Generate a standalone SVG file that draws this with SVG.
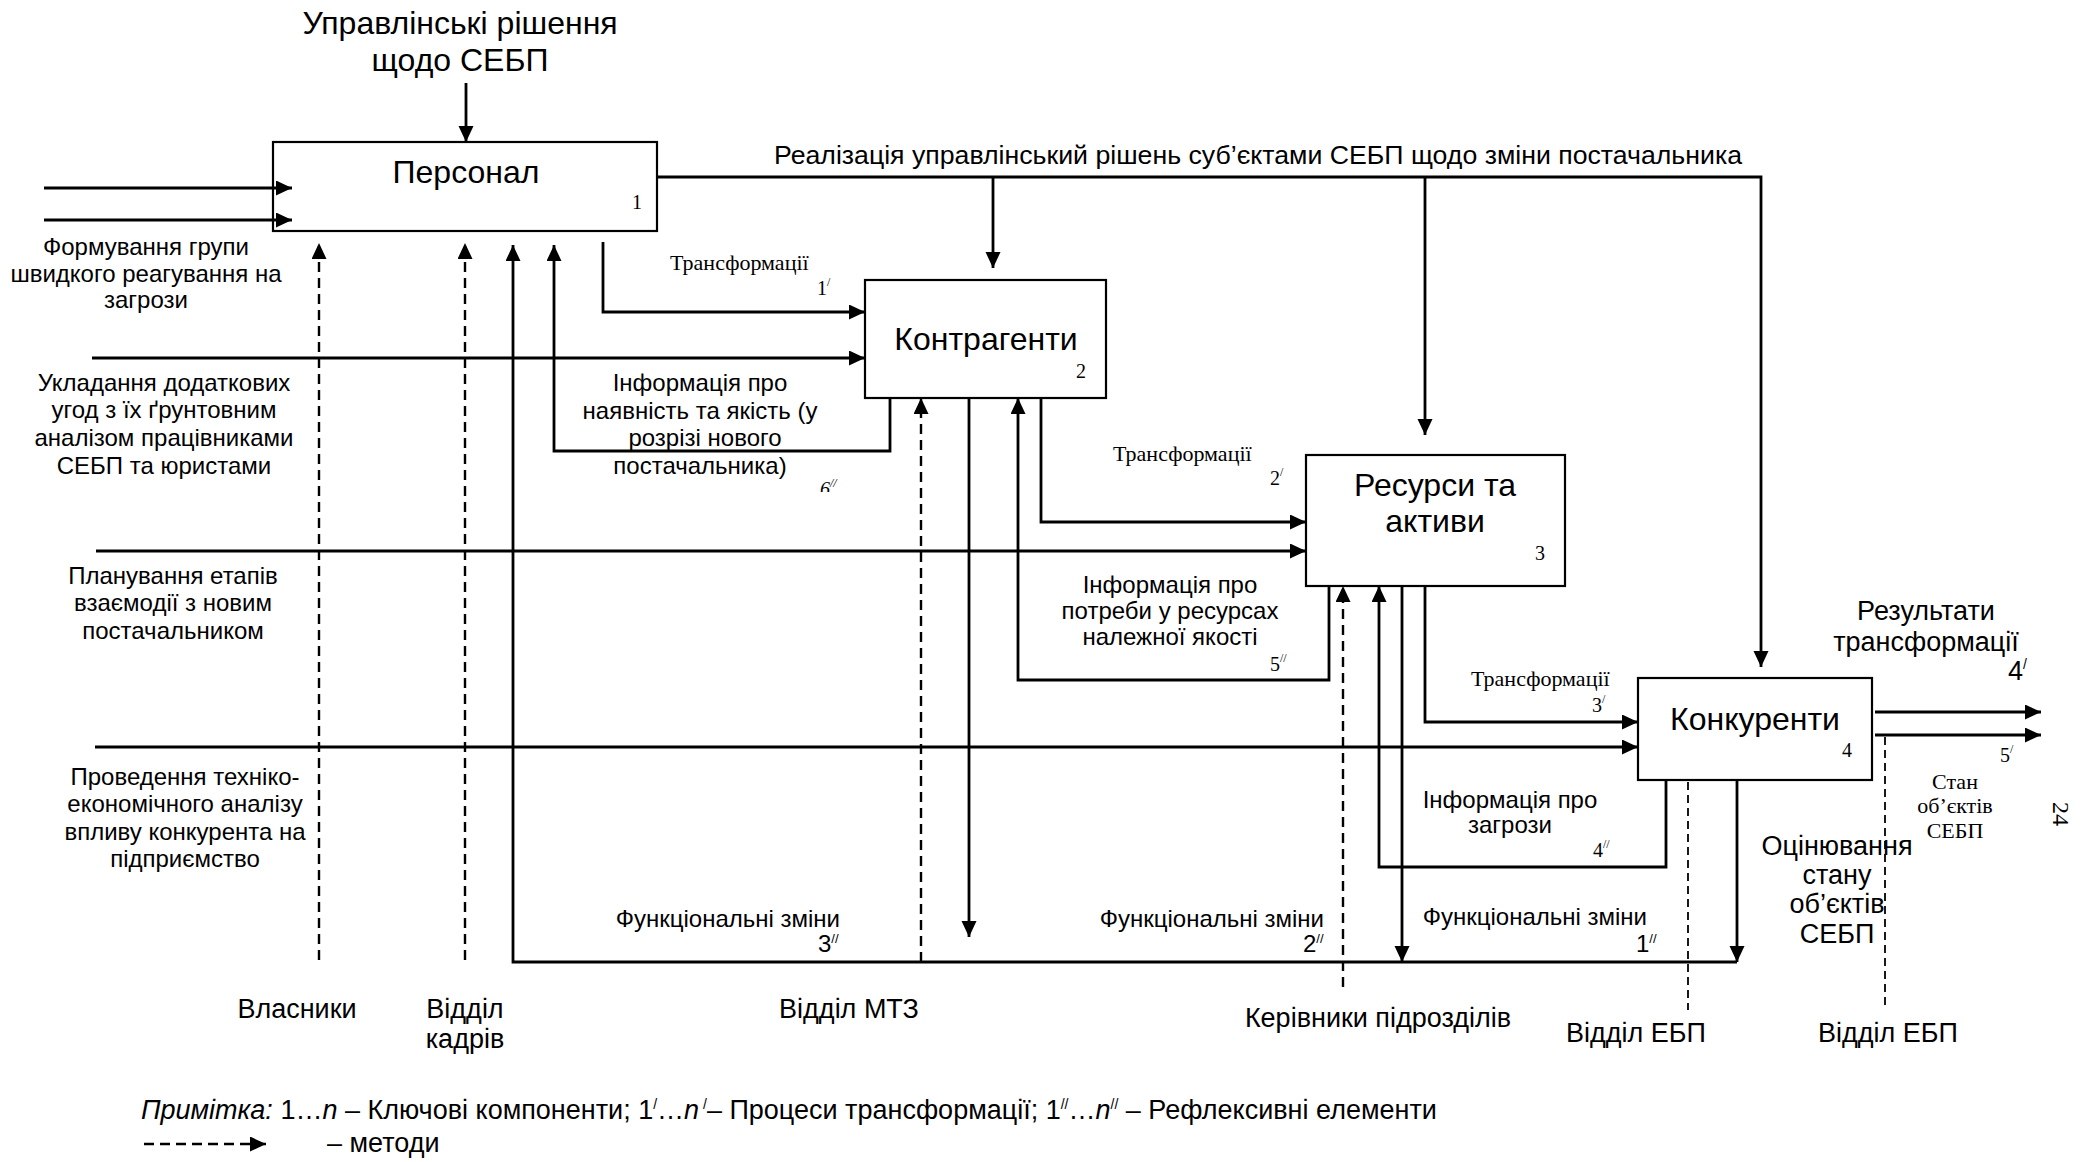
<svg xmlns="http://www.w3.org/2000/svg" width="2086" height="1162" viewBox="0 0 2086 1162">
<style>
.sans{font-family:"Liberation Sans",Arial,sans-serif;fill:#000}
.serif{font-family:"Liberation Serif","Times New Roman",serif;fill:#000}
.lbl{font-size:24px}
.big{font-size:32px}
.mid{font-size:27px}
.fz{font-size:24px}
.tr{font-size:22px}
.num{font-size:20px}
.note{font-size:27px}
.box{fill:#fff;stroke:#000;stroke-width:2.2}
.ln{fill:none;stroke:#000;stroke-width:2.8}
.dash{fill:none;stroke:#000;stroke-width:2.4;stroke-dasharray:10,6}
.dthin{fill:none;stroke:#000;stroke-width:1.8;stroke-dasharray:8,5}
.c{text-anchor:middle}
.e{text-anchor:end}
</style>
<defs>
<marker id="arr" markerUnits="userSpaceOnUse" markerWidth="18" markerHeight="16" refX="16" refY="7.5" orient="auto">
<path d="M0,0 L16,7.5 L0,15 z" fill="#000"/>
</marker>
<clipPath id="clip6"><rect x="800" y="470" width="60" height="22"/></clipPath>
</defs>

<g id="title">
<text class="sans big c" x="460" y="34">Управлінські рішення</text>
<text class="sans big c" x="460" y="71">щодо СЕБП</text>
</g>

<g id="n1">
<rect class="box" x="273" y="142" width="384" height="89"/>
<text class="sans big c" x="466" y="183">Персонал</text>
<text class="serif num" x="632" y="209">1</text>
</g>
<g id="n2">
<rect class="box" x="865" y="280" width="241" height="118"/>
<text class="sans big c" x="986" y="350">Контрагенти</text>
<text class="serif num" x="1076" y="378">2</text>
</g>
<g id="n3">
<rect class="box" x="1306" y="455" width="259" height="131"/>
<text class="sans big c" x="1435" y="496">Ресурси та</text>
<text class="sans big c" x="1435" y="532">активи</text>
<text class="serif num" x="1535" y="560">3</text>
</g>
<g id="n4">
<rect class="box" x="1638" y="678" width="234" height="102"/>
<text class="sans big c" x="1755" y="730">Конкуренти</text>
<text class="serif num" x="1842" y="757">4</text>
</g>

<g id="connectors">
<path class="ln" d="M466,83 V142" marker-end="url(#arr)"/>
<path class="ln" d="M44,188 H292" marker-end="url(#arr)"/>
<path class="ln" d="M44,220 H292" marker-end="url(#arr)"/>
<path class="ln" d="M657,177 H1761 V667" marker-end="url(#arr)"/>
<path class="ln" d="M993,177 V268" marker-end="url(#arr)"/>
<path class="ln" d="M1425,177 V435" marker-end="url(#arr)"/>
<path class="ln" d="M603,242 V312 H865" marker-end="url(#arr)"/>
<path class="ln" d="M92,358 H865" marker-end="url(#arr)"/>
<path class="ln" d="M890,398 V451 H554 V245" marker-end="url(#arr)"/>
<path class="ln" d="M96,551 H1306" marker-end="url(#arr)"/>
<path class="ln" d="M1041,398 V522 H1306" marker-end="url(#arr)"/>
<path class="ln" d="M1329,586 V680 H1018 V398" marker-end="url(#arr)"/>
<path class="ln" d="M95,747 H1638" marker-end="url(#arr)"/>
<path class="ln" d="M1425,586 V722 H1638" marker-end="url(#arr)"/>
<path class="ln" d="M1666,780 V867 H1379 V586" marker-end="url(#arr)"/>
<path class="ln" d="M1875,712 H2041" marker-end="url(#arr)"/>
<path class="ln" d="M1875,735 H2041" marker-end="url(#arr)"/>
<path class="ln" d="M1737,962 H513 V245" marker-end="url(#arr)"/>
<path class="ln" d="M969,398 V937" marker-end="url(#arr)"/>
<path class="ln" d="M1402,586 V962" marker-end="url(#arr)"/>
<path class="ln" d="M1737,780 V962" marker-end="url(#arr)"/>
<path class="dash" d="M319,960 V243" marker-end="url(#arr)"/>
<path class="dash" d="M465,960 V243" marker-end="url(#arr)"/>
<path class="dash" d="M921,962 V398" marker-end="url(#arr)"/>
<path class="dash" d="M1343,987 V586" marker-end="url(#arr)"/>
<path class="dthin" d="M1688,782 V1010"/>
<path class="dthin" d="M1885,737 V1008"/>
</g>

<g id="labels">
<text class="sans" font-size="26.7" x="774" y="164">Реалізація управлінський рішень суб’єктами СЕБП щодо зміни постачальника</text>

<text class="sans lbl c" x="146" y="255">Формування групи</text>
<text class="sans lbl c" x="146" y="282">швидкого реагування на</text>
<text class="sans lbl c" x="146" y="308">загрози</text>

<text class="sans lbl c" x="164" y="391">Укладання додаткових</text>
<text class="sans lbl c" x="164" y="418">угод з їх ґрунтовним</text>
<text class="sans lbl c" x="164" y="446">аналізом працівниками</text>
<text class="sans lbl c" x="164" y="474">СЕБП та юристами</text>

<text class="sans lbl c" x="173" y="584">Планування етапів</text>
<text class="sans lbl c" x="173" y="611">взаємодії з новим</text>
<text class="sans lbl c" x="173" y="639">постачальником</text>

<text class="sans lbl c" x="185" y="785">Проведення техніко-</text>
<text class="sans lbl c" x="185" y="812">економічного аналізу</text>
<text class="sans lbl c" x="185" y="840">впливу конкурента на</text>
<text class="sans lbl c" x="185" y="867">підприємство</text>

<text class="serif tr" x="670" y="270">Трансформації</text>
<text class="serif num" x="817" y="295">1<tspan font-size="12" dy="-9">/</tspan></text>

<text class="sans lbl c" x="700" y="391">Інформація про</text>
<text class="sans lbl c" x="700" y="419">наявність та якість (у</text>
<text class="sans lbl c" x="705" y="446">розрізі нового</text>
<text class="sans lbl c" x="700" y="474">постачальника)</text>
<text class="serif num" x="820" y="496" font-style="italic" clip-path="url(#clip6)">6<tspan font-size="12" dy="-9">//</tspan></text>

<text class="serif tr" x="1113" y="461">Трансформації</text>
<text class="serif num" x="1270" y="485">2<tspan font-size="12" dy="-9">/</tspan></text>

<text class="sans lbl c" x="1170" y="593">Інформація про</text>
<text class="sans lbl c" x="1170" y="619">потреби у ресурсах</text>
<text class="sans lbl c" x="1170" y="645">належної якості</text>
<text class="serif num" x="1270" y="671">5<tspan font-size="12" dy="-9">//</tspan></text>

<text class="serif tr" x="1471" y="686">Трансформації</text>
<text class="serif num" x="1592" y="712">3<tspan font-size="12" dy="-9">/</tspan></text>

<text class="sans lbl c" x="1510" y="808">Інформація про</text>
<text class="sans lbl c" x="1510" y="833">загрози</text>
<text class="serif num" x="1593" y="857">4<tspan font-size="12" dy="-9">//</tspan></text>

<text class="sans mid c" x="1926" y="620">Результати</text>
<text class="sans mid c" x="1926" y="651">трансформації</text>
<text class="sans mid" x="2008" y="680">4<tspan font-size="14" dy="-11">/</tspan></text>
<text class="serif num" x="2000" y="762">5<tspan font-size="12" dy="-9">/</tspan></text>

<text class="serif tr c" x="1955" y="789" font-size="20">Стан</text>
<text class="serif tr c" x="1955" y="813" font-size="20">об’єктів</text>
<text class="serif tr c" x="1955" y="838" font-size="20">СЕБП</text>

<text class="sans mid c" x="1837" y="855">Оцінювання</text>
<text class="sans mid c" x="1837" y="884">стану</text>
<text class="sans mid c" x="1837" y="913">об’єктів</text>
<text class="sans mid c" x="1837" y="943">СЕБП</text>

<text class="serif" font-size="24" transform="translate(2053,802) rotate(90)">24</text>

<text class="sans fz e" x="840" y="927">Функціональні зміни</text>
<text class="sans fz" x="818" y="952">3<tspan font-size="13" dy="-9">//</tspan></text>
<text class="sans fz e" x="1324" y="927">Функціональні зміни</text>
<text class="sans fz" x="1303" y="952">2<tspan font-size="13" dy="-9">//</tspan></text>
<text class="sans fz e" x="1647" y="925">Функціональні зміни</text>
<text class="sans fz" x="1636" y="952">1<tspan font-size="13" dy="-9">//</tspan></text>

<text class="sans mid c" x="297" y="1018">Власники</text>
<text class="sans mid c" x="465" y="1018">Відділ</text>
<text class="sans mid c" x="465" y="1048">кадрів</text>
<text class="sans mid c" x="849" y="1018">Відділ МТЗ</text>
<text class="sans mid c" x="1378" y="1027">Керівники підрозділів</text>
<text class="sans mid c" x="1636" y="1042">Відділ ЕБП</text>
<text class="sans mid c" x="1888" y="1042">Відділ ЕБП</text>
</g>

<g id="note">
<text class="sans note" x="141" y="1119"><tspan font-style="italic">Примітка:</tspan> 1…<tspan font-style="italic">n</tspan> – Ключові компоненти; 1<tspan font-size="14" dy="-10">/</tspan><tspan dy="10">…</tspan><tspan font-style="italic">n</tspan><tspan font-size="14" dy="-10"> /</tspan><tspan dy="10">–  Процеси трансформації; 1</tspan><tspan font-size="14" dy="-10">//</tspan><tspan dy="10">…</tspan><tspan font-style="italic">n</tspan><tspan font-size="14" dy="-10">//</tspan><tspan dy="10"> – Рефлексивні елементи</tspan></text>
<path class="dash" d="M144,1144 H266" stroke-dasharray="9,7" marker-end="url(#arr)"/>
<text class="sans note" x="327" y="1152">– методи</text>
</g>
</svg>
